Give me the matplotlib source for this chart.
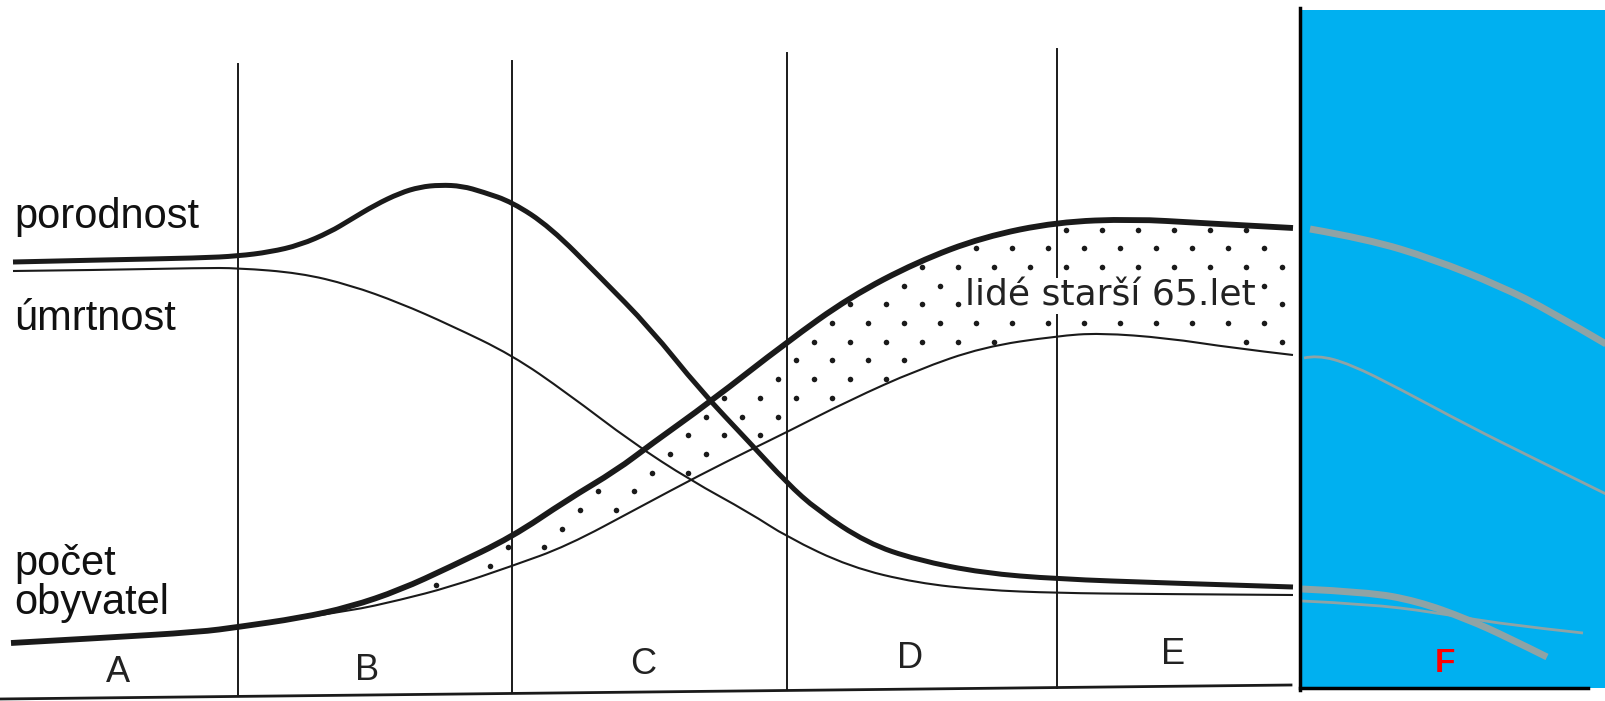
import numpy as np
import matplotlib
matplotlib.use("Agg")
import matplotlib.pyplot as plt
from matplotlib.patches import Rectangle, PathPatch
from matplotlib.path import Path

plt.rcParams['font.family'] = ['Liberation Sans', 'DejaVu Sans']

# hodnoty (x = cas, y = uroven, osa y otocena)
porodnost_x = [13, 100, 200, 238, 270, 300, 330, 350, 375, 400, 420, 440, 462, 483, 512,
               550, 600, 650, 700, 750, 787, 817, 867, 917, 983, 1057, 1167, 1293]
porodnost_y = [262, 260, 258, 256, 252, 245, 232, 220, 205, 193, 187, 185, 186, 192, 202,
               227, 277, 328, 390, 443, 483, 510, 543, 560, 573, 579, 583, 587]

umrtnost_x = [13, 100, 200, 238, 300, 350, 400, 450, 512, 567, 633, 690, 750, 787, 850,
              917, 983, 1057, 1150, 1293]
umrtnost_y = [271, 270, 268, 268, 273, 285, 303, 325, 355, 393, 443, 480, 513, 537, 567,
              583, 590, 593, 594, 595]

pocet_x = [11, 100, 200, 238, 300, 350, 400, 450, 512, 567, 617, 650, 710, 787, 850,
           917, 983, 1057, 1133, 1200, 1293]
pocet_y = [643, 638, 632, 627, 618, 607, 590, 567, 537, 500, 470, 445, 402, 342, 297,
           262, 237, 222, 219, 223, 228]

# spodni hranice pasu "lide starsi 65 let"
mladsi_x = [300, 350, 400, 450, 512, 567, 640, 700, 750, 787, 850, 917, 983, 1057, 1100,
            1167, 1233, 1293]
mladsi_y = [618, 611, 600, 587, 566, 546, 507, 475, 450, 432, 400, 370, 347, 336, 333,
            338, 348, 355]

# faze F (modry panel)
f_por_x = [1310, 1367, 1433, 1500, 1550, 1606]
f_por_y = [229, 239, 259, 286, 311, 344]
f_umr_x = [1304, 1317, 1350, 1400, 1467, 1533, 1606]
f_umr_y = [358, 355, 364, 389, 425, 458, 494]
f_poc_x = [1302, 1367, 1417, 1467, 1507, 1547]
f_poc_y = [589, 592, 601, 619, 637, 657]
f_mla_x = [1302, 1367, 1433, 1500, 1583]
f_mla_y = [601, 604, 612, 624, 633]

hranice = [238, 512, 787, 1057]
hranice_top = [64, 61, 53, 49]
faze = ['A', 'B', 'C', 'D', 'E']
faze_x = [118, 367, 643, 910, 1173]
faze_y = [672, 670, 664, 659, 654]

ink = '#1a1a1a'
fig = plt.figure(figsize=(16.06, 7.01), dpi=100)
ax = fig.add_axes([0, 0, 1, 1])
ax.set_xlim(0, 1606)
ax.set_ylim(701, 0)
ax.axis('off')


def hladka(xs, ys, **kw):
    # krivka pres stredy usecek, body jsou ridici body (kvadraticke beziery)
    p = np.column_stack([xs, ys]).astype(float)
    verts = [p[0]]
    codes = [Path.MOVETO]
    for k in range(1, len(p) - 1):
        mid = (p[k] + p[k + 1]) / 2 if k < len(p) - 2 else p[k + 1]
        verts += [p[k], mid]
        codes += [Path.CURVE3, Path.CURVE3]
    if len(p) == 2:
        verts.append(p[1])
        codes.append(Path.LINETO)
    ax.add_patch(PathPatch(Path(verts, codes), fill=False, capstyle='butt', **kw))


# spodni osa (lehce sikma)
def osa(x):
    return 699 - 14 * x / 1291


ax.plot([0, 1291], [osa(0), osa(1291)], color=ink, lw=2)
for x, t in zip(hranice, hranice_top):
    ax.plot([x, x], [t, osa(x)], color=ink, lw=1.4)

hladka(porodnost_x, porodnost_y, edgecolor=ink, lw=3.6)
hladka(umrtnost_x, umrtnost_y, edgecolor=ink, lw=1.5)
hladka(pocet_x, pocet_y, edgecolor=ink, lw=4.2)
hladka(mladsi_x, mladsi_y, edgecolor=ink, lw=1.5)

# tecky v pasu
gx, gy = [], []
for j in range(-6, 20):
    y = 323 + 18.7 * j
    for i in range(-14, 14):
        x = 832 + 36 * i + 18 * (j % 2)
        if x > 1290:
            continue
        top = np.interp(x, pocet_x, pocet_y)
        bot = np.interp(x, mladsi_x, mladsi_y)
        if top + 4 < y < bot - 3:
            gx.append(x)
            gy.append(y)
ax.scatter(gx, gy, s=16, color=ink, zorder=3, linewidths=0)

ax.text(1110, 296, 'lidé starší 65.let', fontsize=26, family=['DejaVu Sans'],
        color='#222222', ha='center', va='center', zorder=4,
        bbox=dict(facecolor='white', edgecolor='none', pad=0.5))

# popisky
lab = dict(fontsize=30, color='#111111', ha='left', va='baseline')
ax.text(14, 228, 'porodnost', **lab)
ax.text(14, 330, 'úmrtnost', **lab)
ax.text(14, 575, 'počet', **lab)
ax.text(14, 614, 'obyvatel', **lab)

for f, x, y in zip(faze, faze_x, faze_y):
    ax.text(x, y, f, fontsize=26, color='#222222', ha='center', va='center')

# modry panel F
ax.add_patch(Rectangle((1300, 10), 306, 678, facecolor='#00b0f0', edgecolor='none', zorder=1))
ax.plot([1300, 1300], [8, 690], color='black', lw=2.5, zorder=5)
ax.plot([1300, 1588], [688, 688], color='black', lw=2.5, zorder=5)
gray = '#8fa3a5'
hladka(f_por_x, f_por_y, edgecolor=gray, lw=5, zorder=2)
hladka(f_umr_x, f_umr_y, edgecolor=gray, lw=2, zorder=2)
hladka(f_poc_x, f_poc_y, edgecolor=gray, lw=5, zorder=2)
hladka(f_mla_x, f_mla_y, edgecolor=gray, lw=2, zorder=2)
ax.text(1445, 664, 'F', fontsize=24, fontweight='bold', color='red',
        ha='center', va='center', zorder=3)

fig.savefig('out.png', dpi=100)
